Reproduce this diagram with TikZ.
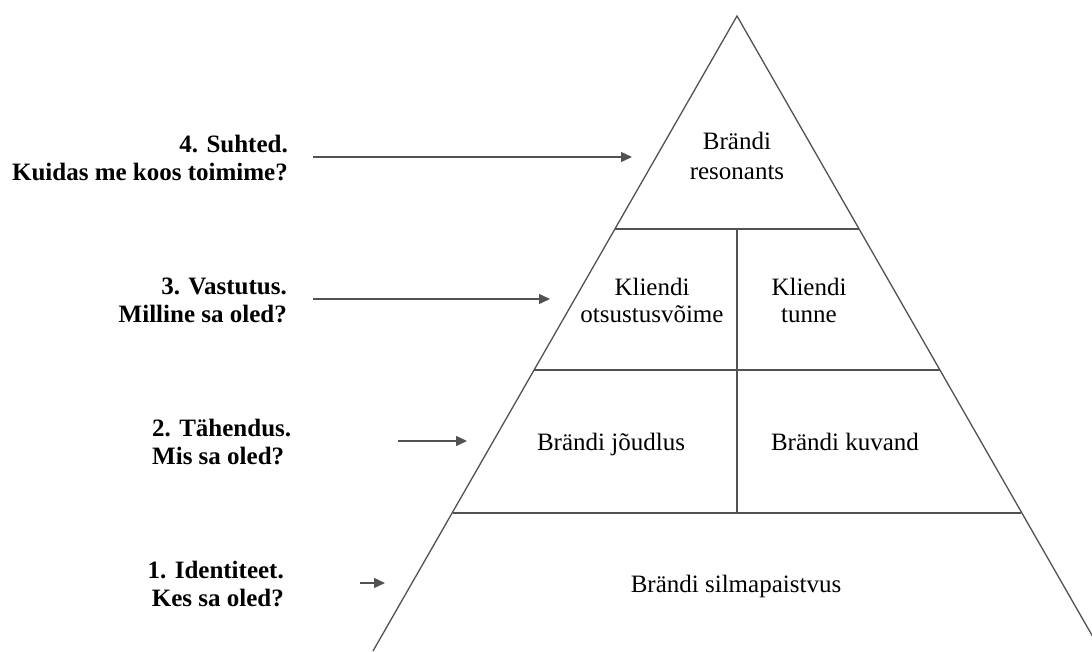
\documentclass[tikz,border=0pt]{standalone}
\usepackage{fontspec}
\setmainfont{Liberation Serif}
\usetikzlibrary{arrows.meta}
\begin{document}
\begin{tikzpicture}[x=1pt,y=-1pt,
  edge/.style={draw=black!68,line width=1.3pt},
  pointer/.style={draw=black!68,line width=1.4pt,-{Triangle[length=11pt,width=10pt]}},
  lvl/.style={font=\fontsize{25}{28}\selectfont\bfseries,align=right,anchor=east,inner sep=0pt},
  tier/.style={font=\fontsize{25}{28}\selectfont,align=center,inner sep=0pt}]
\useasboundingbox (0,0) rectangle (1092,651);
\begin{scope}
\clip (0,0) rectangle (1092,651);
% pyramid outline
\coordinate (apex) at (737,16);
\coordinate (bl) at (373,651);
\coordinate (br) at (1101,651);
\draw[edge,line join=miter] (bl) -- (apex) -- (br);
% tier boundaries
\coordinate (l1) at (615,229); \coordinate (r1) at (859,229);
\coordinate (l2) at (534,370); \coordinate (r2) at (940,370);
\coordinate (l3) at (453,513); \coordinate (r3) at (1021,513);
\coordinate (m1) at (737,229); \coordinate (m3) at (737,513);
\draw[edge] (l1) -- (r1);
\draw[edge] (l2) -- (r2);
\draw[edge] (l3) -- (r3);
\draw[edge] (m1) -- (m3);
\end{scope}
% tier texts
\node[tier,font=\fontsize{25}{30}\selectfont] (t4) at (737,156) {Brändi\\resonants};
\node[tier,font=\fontsize{25}{27}\selectfont] (t3a) at (652,300) {Kliendi\\otsustusvõime};
\node[tier,font=\fontsize{25}{27}\selectfont] (t3b) at (809,300) {Kliendi\\tunne};
\node[tier,anchor=base] (t2a) at (611,450) {Brändi jõudlus};
\node[tier,anchor=base] (t2b) at (845,450) {Brändi kuvand};
\node[tier,anchor=base] (t1) at (736,592) {Brändi silmapaistvus};
% level labels
\node[lvl] (q4) at (288,158) {4. Suhted.\\Kuidas me koos toimime?};
\node[lvl] (q3) at (287,300) {3. Vastutus.\\Milline sa oled?};
\node[lvl,align=left,anchor=west] (q2) at (152,442) {2. Tähendus.\\Mis sa oled?};
\node[lvl] (q1) at (284,584) {1. Identiteet.\\Kes sa oled?};
% arrows pointing into the pyramid
\coordinate (e4) at (632,157);
\coordinate (e3) at (550,299);
\coordinate (e2) at (467,441);
\coordinate (e1) at (385,583);
\draw[pointer] (313,157) coordinate (s4) -- (e4);
\draw[pointer] (313,299) coordinate (s3) -- (e3);
\draw[pointer] (398,441) coordinate (s2) -- (e2);
\draw[pointer] (360,583) coordinate (s1) -- (e1);
\end{tikzpicture}
\end{document}
